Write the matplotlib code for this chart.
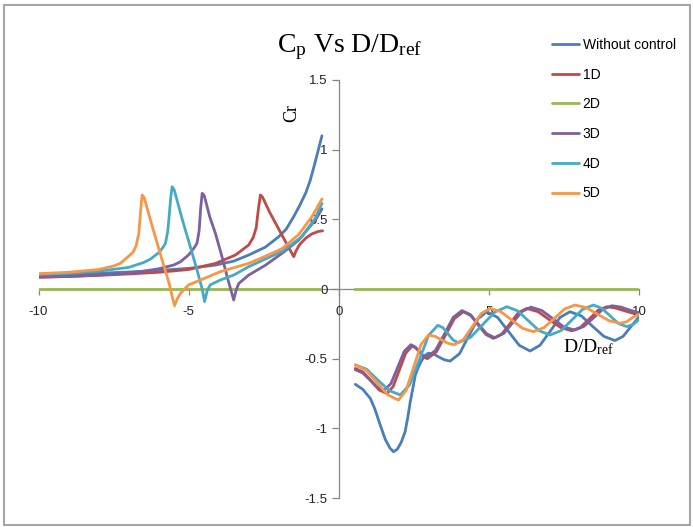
import numpy as np
import matplotlib
matplotlib.use("Agg")
import matplotlib.pyplot as plt
from matplotlib.patches import Rectangle

plt.rcParams['mathtext.fontset'] = 'custom'
plt.rcParams['mathtext.rm'] = 'Liberation Serif'
plt.rcParams['mathtext.it'] = 'Liberation Serif:italic'

labels = ["Without control", "1D", "2D", "3D", "4D", "5D"]
colors = ["#4a7ebb", "#be4b48", "#98b954", "#7d60a0", "#46aac5", "#f79646"]

# ---- left branch (D/Dref < 0) ----
nc_xl = [-10, -9, -8, -7, -6, -5, -4.1, -3.5, -3.0, -2.45, -2.0, -1.75, -1.5, -1.3, -1.1, -0.95, -0.8, -0.68, -0.56]
nc_yl = [0.10, 0.105, 0.113, 0.122, 0.133, 0.148, 0.172, 0.20, 0.244, 0.30, 0.375, 0.43, 0.52, 0.60, 0.69, 0.78, 0.90, 1.0, 1.10]

d1_xl = [-10, -9, -8, -7, -6, -5, -4.1, -3.44, -3.0, -2.85, -2.75, -2.68, -2.61, -2.54, -2.3, -2.0, -1.75, -1.5,
         -1.42, -1.3, -1.1, -0.9, -0.7, -0.54]
d1_yl = [0.085, 0.09, 0.098, 0.108, 0.12, 0.14, 0.184, 0.244, 0.316, 0.37, 0.44, 0.57, 0.675, 0.66, 0.55, 0.43, 0.33, 0.232,
         0.275, 0.32, 0.365, 0.395, 0.412, 0.418]

d2_xl = [-10, -0.62]
d2_yl = [0, 0]

d3_xl = [-10, -9, -8, -7, -6.5, -6, -5.5, -5.27, -5.0, -4.8, -4.72, -4.65, -4.6, -4.55, -4.48, -4.3, -4.11, -3.9, -3.7,
         -3.5, -3.42, -3.33, -3.0, -2.45, -1.89, -1.34, -0.78, -0.56]
d3_yl = [0.085, 0.09, 0.10, 0.115, 0.128, 0.145, 0.172, 0.196, 0.245, 0.30, 0.33, 0.42, 0.58, 0.687, 0.67, 0.52, 0.40, 0.24, 0.075,
         -0.079, -0.01, 0.04, 0.10, 0.17, 0.256, 0.35, 0.495, 0.575]

d4_xl = [-10, -9, -8, -7, -6.5, -6.27, -6.0, -5.85, -5.77, -5.7, -5.66, -5.6, -5.55, -5.48, -5.2, -4.9, -4.7, -4.55,
         -4.47, -4.38, -4.28, -3.94, -3.5, -3.0, -2.5, -1.89, -1.23, -0.78, -0.56]
d4_yl = [0.105, 0.113, 0.128, 0.155, 0.19, 0.215, 0.26, 0.30, 0.33, 0.41, 0.495, 0.65, 0.734, 0.71, 0.49, 0.27, 0.12, 0.0,
         -0.09, -0.01, 0.03, 0.065, 0.10, 0.16, 0.21, 0.27, 0.375, 0.51, 0.615]

d5_xl = [-10, -9, -8, -7.5, -7.27, -7.0, -6.85, -6.75, -6.66, -6.6, -6.55, -6.48, -6.2, -5.9, -5.65, -5.53, -5.47, -5.38,
         -5.27, -5.0, -4.6, -3.94, -3.0, -2.5, -1.89, -1.34, -0.89, -0.56]
d5_yl = [0.11, 0.12, 0.14, 0.165, 0.185, 0.235, 0.265, 0.31, 0.40, 0.56, 0.675, 0.655, 0.44, 0.22, 0.04, -0.07, -0.12, -0.07,
         -0.03, 0.03, 0.065, 0.125, 0.184, 0.23, 0.29, 0.39, 0.52, 0.646]

# ---- right branch (D/Dref > 0) ----
nc_xr = [0.55, 0.8, 1.05, 1.2, 1.38, 1.55, 1.7, 1.82, 1.95, 2.08, 2.21, 2.3, 2.38, 2.47, 2.55, 2.66, 2.77, 2.88, 2.99,
         3.17, 3.35, 3.53, 3.71, 4.02, 4.32, 4.63, 4.93, 5.29, 5.65, 6.01, 6.37, 6.70, 7.04, 7.37, 7.7, 8.08, 8.45,
         8.83, 9.2, 9.47, 9.73, 10.0]
nc_yr = [-0.684, -0.72, -0.785, -0.86, -0.976, -1.08, -1.14, -1.168, -1.15, -1.10, -1.024, -0.92, -0.81, -0.71, -0.617,
         -0.555, -0.51, -0.475, -0.46, -0.468, -0.49, -0.509, -0.517, -0.465, -0.34, -0.215, -0.163, -0.204, -0.304,
         -0.404, -0.445, -0.404, -0.304, -0.204, -0.163, -0.193, -0.267, -0.34, -0.37, -0.34, -0.27, -0.20]

d1_xr = [0.55, 0.81, 1.08, 1.34, 1.6, 1.81, 2.02, 2.23, 2.44, 2.57, 2.70, 2.82, 2.95, 3.25, 3.55, 3.85, 4.15, 4.40,
         4.65, 4.90, 5.15, 5.43, 5.71, 5.98, 6.26, 6.64, 7.01, 7.39, 7.76, 8.05, 8.35, 8.64, 8.93, 9.2, 9.47, 9.73, 10.0]
d1_yr = [-0.57, -0.596, -0.66, -0.724, -0.75, -0.70, -0.58, -0.46, -0.41, -0.423, -0.455, -0.487, -0.50, -0.451,
         -0.332, -0.212, -0.163, -0.191, -0.259, -0.326, -0.354, -0.323, -0.247, -0.170, -0.139, -0.163, -0.22,
         -0.276, -0.30, -0.275, -0.214, -0.152, -0.127, -0.135, -0.153, -0.17, -0.18]

d2_xr = [0.5, 10.0]
d2_yr = [0, 0]

d3_xr = [0.55, 0.79, 1.04, 1.28, 1.52, 1.74, 1.96, 2.18, 2.40, 2.53, 2.67, 2.80, 2.93, 3.22, 3.52, 3.81, 4.10, 4.38,
         4.65, 4.93, 5.2, 5.5, 5.8, 6.1, 6.4, 6.76, 7.13, 7.49, 7.85, 8.16, 8.48, 8.79, 9.1, 9.4, 9.7, 10.0]
d3_yr = [-0.58, -0.601, -0.653, -0.704, -0.725, -0.678, -0.563, -0.447, -0.40, -0.413, -0.445, -0.477, -0.49, -0.441,
         -0.323, -0.204, -0.155, -0.183, -0.253, -0.322, -0.35, -0.318, -0.24, -0.162, -0.13, -0.154, -0.213, -0.271,
         -0.295, -0.269, -0.208, -0.146, -0.12, -0.13, -0.152, -0.17]

d4_xr = [0.55, 0.93, 1.3, 1.68, 2.05, 2.36, 2.68, 2.99, 3.3, 3.47, 3.64, 3.81, 3.98, 4.39, 4.79, 5.2, 5.6, 5.96, 6.32,
         6.68, 7.04, 7.4, 7.76, 8.12, 8.48, 8.76, 9.04, 9.31, 9.59, 9.8, 10.0]
d4_yr = [-0.545, -0.576, -0.653, -0.729, -0.76, -0.687, -0.51, -0.333, -0.26, -0.278, -0.323, -0.367, -0.385, -0.347,
         -0.256, -0.165, -0.127, -0.157, -0.229, -0.3, -0.33, -0.299, -0.223, -0.146, -0.115, -0.138, -0.193, -0.247,
         -0.27, -0.255, -0.22]

d5_xr = [0.55, 0.91, 1.27, 1.63, 1.99, 2.24, 2.49, 2.74, 2.99, 3.21, 3.42, 3.64, 3.85, 4.15, 4.45, 4.74, 5.04, 5.4,
         5.76, 6.12, 6.48, 6.83, 7.18, 7.52, 7.87, 8.25, 8.62, 9.0, 9.37, 9.58, 9.79, 10.0]
d5_yr = [-0.545, -0.582, -0.671, -0.76, -0.797, -0.729, -0.564, -0.398, -0.33, -0.34, -0.365, -0.39, -0.40, -0.362,
         -0.27, -0.177, -0.139, -0.163, -0.223, -0.282, -0.306, -0.278, -0.211, -0.143, -0.115, -0.134, -0.181, -0.227,
         -0.246, -0.236, -0.205, -0.18]

series = [
    (nc_xl, nc_yl, nc_xr, nc_yr),
    (d1_xl, d1_yl, d1_xr, d1_yr),
    (d2_xl, d2_yl, d2_xr, d2_yr),
    (d3_xl, d3_yl, d3_xr, d3_yr),
    (d4_xl, d4_yl, d4_xr, d4_yr),
    (d5_xl, d5_yl, d5_xr, d5_yr),
]

fig = plt.figure(figsize=(6.93, 5.27), dpi=100)
ax = fig.add_axes([0.0556, 0.055, 0.8665, 0.7932])

for (xl, yl, xr, yr), lab, col in zip(series, labels, colors):
    x = np.concatenate([xl, [np.nan], xr])
    y = np.concatenate([yl, [np.nan], yr])
    ax.plot(x, y, color=col, lw=2.0, label=lab, solid_joinstyle='round', solid_capstyle='round')

ax.set_xlim(-10, 10)
ax.set_ylim(-1.5, 1.5)
ax.set_xticks([-10, -5, 0, 5, 10])
ax.set_yticks([-1.5, -1, -0.5, 0, 0.5, 1, 1.5])
ax.set_xticklabels(["-10", "-5", "0", "5", "10"])
ax.set_yticklabels(["-1.5", "-1", "-0.5", "0", "0.5", "1", "1.5"])

for s in ["top", "right"]:
    ax.spines[s].set_visible(False)
ax.spines["left"].set_position(("data", 0))
ax.spines["bottom"].set_position(("data", 0))
for s in ["left", "bottom"]:
    ax.spines[s].set_color("#868686")
    ax.spines[s].set_linewidth(0.9)
    ax.spines[s].set_zorder(0.5)
ax.patch.set_visible(False)

tick_font = ['Liberation Sans', 'DejaVu Sans']
ax.tick_params(axis="both", direction="out", color="#868686", width=0.9, labelcolor="#222222", labelsize=9.5)
ax.tick_params(axis="x", length=4, pad=8)
ax.tick_params(axis="y", length=5, pad=3)
for t in ax.get_xticklabels() + ax.get_yticklabels():
    t.set_fontfamily(tick_font)

fig.text(0.505, 0.902, r"C$_{\mathrm{p}}$ Vs D/D$_{\mathrm{ref}}$", ha="center", va="baseline",
         fontsize=20, family="Liberation Serif")
fig.text(291.5 / 693, 1 - 113.5 / 527, "Cr", rotation=90, ha="center", va="center",
         fontsize=13, family="Liberation Serif")
ax.text(8.3, -0.42, r"D/D$_{\mathrm{ref}}$", ha="center", va="center", fontsize=14, family="Liberation Serif")

fig.legend(loc="upper left", bbox_to_anchor=(0.7965, 0.928), frameon=False, borderpad=0, borderaxespad=0,
           handlelength=1.95, handletextpad=0.25, labelspacing=1.13,
           prop={"family": tick_font, "size": 10})

fig.patches.append(Rectangle((0.006, 0.003), 0.989, 0.988, transform=fig.transFigure, fill=False,
                             edgecolor="#a6a6a6", linewidth=1.5))

fig.savefig("out.png", dpi=100)
